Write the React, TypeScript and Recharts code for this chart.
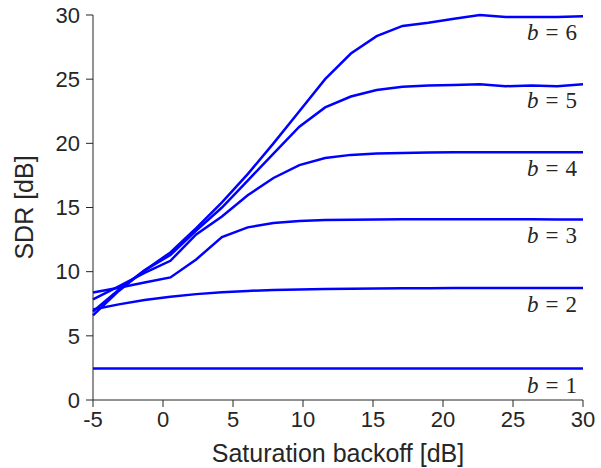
import { LineChart, Line, XAxis, YAxis, LabelList } from 'recharts'

const BACKOFF = [-5, -3.16, -1.32, 0.53, 2.37, 4.21, 6.05, 7.89, 9.74, 11.58, 13.42, 15.26, 17.11, 18.95, 20.79, 22.63, 24.47, 26.32, 28.16, 30]

const B1 = [2.45, 2.45, 2.45, 2.45, 2.45, 2.45, 2.45, 2.45, 2.45, 2.45, 2.45, 2.45, 2.45, 2.45, 2.45, 2.45, 2.45, 2.45, 2.45, 2.45]
const B2 = [7.05, 7.45, 7.8, 8.05, 8.25, 8.4, 8.5, 8.58, 8.62, 8.65, 8.67, 8.69, 8.7, 8.71, 8.72, 8.72, 8.72, 8.72, 8.72, 8.72]
const B3 = [8.38, 8.75, 9.15, 9.55, 10.95, 12.7, 13.45, 13.8, 13.95, 14.02, 14.05, 14.07, 14.08, 14.08, 14.08, 14.08, 14.08, 14.08, 14.07, 14.07]
const B4 = [7.85, 8.85, 9.9, 10.85, 12.9, 14.3, 15.95, 17.3, 18.3, 18.85, 19.1, 19.2, 19.25, 19.28, 19.3, 19.3, 19.3, 19.3, 19.3, 19.3]
const B5 = [6.9, 8.6, 10.1, 11.3, 13.2, 15.0, 17.1, 19.2, 21.3, 22.8, 23.65, 24.15, 24.4, 24.5, 24.55, 24.6, 24.45, 24.5, 24.45, 24.6]
const B6 = [6.6, 8.5, 10.1, 11.5, 13.4, 15.4, 17.6, 20.0, 22.5, 25.0, 27.0, 28.35, 29.15, 29.4, 29.7, 30.0, 29.85, 29.85, 29.85, 29.9]

const SERIES = [
  { key: 'b1', name: '1', values: B1 },
  { key: 'b2', name: '2', values: B2 },
  { key: 'b3', name: '3', values: B3 },
  { key: 'b4', name: '4', values: B4 },
  { key: 'b5', name: '5', values: B5 },
  { key: 'b6', name: '6', values: B6 },
]

const X_TICKS = [-5, 0, 5, 10, 15, 20, 25, 30]
const Y_TICKS = [0, 5, 10, 15, 20, 25, 30]

const data = BACKOFF.map((x, i) => {
  const row: any = { x }
  SERIES.forEach((s) => { row[s.key] = s.values[i] })
  return row
})

const AXIS = '#262626'
const FONT = '"Liberation Sans", Arial, Helvetica, sans-serif'

// "b = n" tag under the right end of each curve
const endLabel = (name: string) => (props: any) => {
  if (props.index !== BACKOFF.length - 1) return null
  return (
    <text
      x={props.x - 6}
      y={props.y + 16}
      textAnchor="end"
      dominantBaseline="central"
      fontFamily='"Liberation Serif", "DejaVu Serif", serif'
      fontSize={23}
      fill={AXIS}
    >
      <tspan fontStyle="italic">b</tspan>
      <tspan dx={7}>=</tspan>
      <tspan dx={7}>{name}</tspan>
    </text>
  )
}

export default function App() {
  return (
    <div style={{ position: 'absolute', left: 0, top: 0 }}>
      <LineChart width={601} height={468} data={data} margin={{ top: 15, right: 18, bottom: 0, left: 0 }}>
        <XAxis
          dataKey="x"
          type="number"
          domain={[-5, 30]}
          ticks={X_TICKS}
          stroke={AXIS}
          tickSize={7}
          tickMargin={4}
          height={68}
          tick={{ fill: AXIS, fontSize: 22, fontFamily: FONT }}
          label={{ value: 'Saturation backoff [dB]', position: 'insideBottom', offset: 6, fill: AXIS, fontSize: 25, fontFamily: FONT }}
        />
        <YAxis
          type="number"
          domain={[0, 30]}
          ticks={Y_TICKS}
          stroke={AXIS}
          tickSize={7}
          tickMargin={6}
          width={93}
          tick={{ fill: AXIS, fontSize: 22, fontFamily: FONT }}
          label={{ value: 'SDR [dB]', angle: -90, position: 'insideLeft', offset: 24, fill: AXIS, fontSize: 25, fontFamily: FONT, style: { textAnchor: 'middle' } }}
        />
        {SERIES.map((s) => (
          <Line
            key={s.key}
            dataKey={s.key}
            stroke="#0000ff"
            strokeWidth={2.5}
            dot={false}
            isAnimationActive={false}
          >
            <LabelList dataKey={s.key} content={endLabel(s.name)} />
          </Line>
        ))}
      </LineChart>
    </div>
  )
}
